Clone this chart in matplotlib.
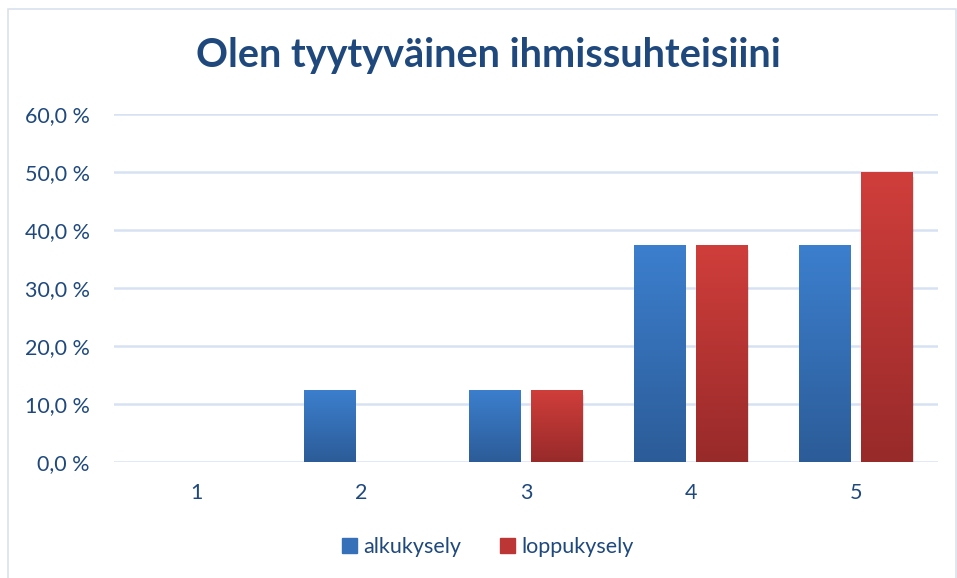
import numpy as np
import matplotlib as mpl
import matplotlib.pyplot as plt
from matplotlib.patches import Rectangle
from matplotlib.colors import LinearSegmentedColormap

mpl.use('Agg')

# data
categories = ['1', '2', '3', '4', '5']
alkukysely = [0.0, 12.5, 12.5, 37.5, 37.5]
loppukysely = [0.0, 0.0, 12.5, 37.5, 50.0]
series_names = ['alkukysely', 'loppukysely']
y_ticks = [0, 10, 20, 30, 40, 50, 60]

text_col = '#1F497D'
grid_col = '#D6E2F2'
blue_grad = LinearSegmentedColormap.from_list('b', ['#2C5C98', '#3C7FCE'])
red_grad = LinearSegmentedColormap.from_list('r', ['#982A2A', '#D03E3B'])

plt.rcParams['font.family'] = ['Lato', 'DejaVu Sans']

fig = plt.figure(figsize=(9.57, 5.78), dpi=100)
fig.patches.append(Rectangle((8 / 957, -0.01), 0.999 - 8 / 957, 1 - 9 / 578 + 0.01,
                             transform=fig.transFigure, fill=False,
                             edgecolor='#D9E1EC', lw=1.2))

ax = fig.add_axes([113.5 / 957, (578 - 462) / 578, 825 / 957, 348 / 578])
x = np.arange(len(categories))
w = 0.315
off = 0.19


def grad_bars(xs, vals, cmap):
    bars = ax.bar(xs, vals, w, color='none', zorder=3)
    grad = np.linspace(0, 1, 256).reshape(-1, 1)
    for b, v in zip(bars, vals):
        if v <= 0:
            continue
        # soft shadow under the bar
        ax.add_patch(Rectangle((b.get_x() + 0.005, -0.9), w, v, color='#000000',
                               alpha=0.12, zorder=2, lw=0))
        im = ax.imshow(grad, cmap=cmap, origin='lower', aspect='auto',
                       extent=[b.get_x(), b.get_x() + w, 0, v], zorder=3)
        im.set_clip_path(b)
    return bars


grad_bars(x - off, alkukysely, blue_grad)
grad_bars(x + off, loppukysely, red_grad)

ax.set_xlim(-0.5, len(categories) - 0.5)
ax.set_ylim(0, 60)
ax.set_yticks(y_ticks)
ax.set_yticklabels([f'{t:.1f} %'.replace('.', ',') for t in y_ticks])
ax.set_xticks(x)
ax.set_xticklabels(categories)
ax.tick_params(axis='y', length=0, pad=17, labelsize=15.5, labelcolor=text_col)
ax.tick_params(axis='x', length=0, pad=15, labelsize=15.5, labelcolor=text_col)
ax.grid(axis='y', color=grid_col, lw=1.8, zorder=0)
ax.set_axisbelow(True)
for s in ax.spines.values():
    s.set_visible(False)

fig.text(488 / 957, 1 - 56 / 578, 'Olen tyytyväinen ihmissuhteisiini', ha='center',
         va='center', fontsize=28.5, fontweight='bold', color=text_col)

handles = [Rectangle((0, 0), 1, 1, color='#3570B8'), Rectangle((0, 0), 1, 1, color='#BB3634')]
fig.legend(handles, series_names, loc='center', bbox_to_anchor=(488 / 957, 1 - 547 / 578),
           ncol=2, frameon=False, fontsize=15.5, labelcolor=text_col,
           handlelength=0.7, handleheight=0.7, handletextpad=0.3, columnspacing=1.8)

fig.savefig('out.png', dpi=100)
